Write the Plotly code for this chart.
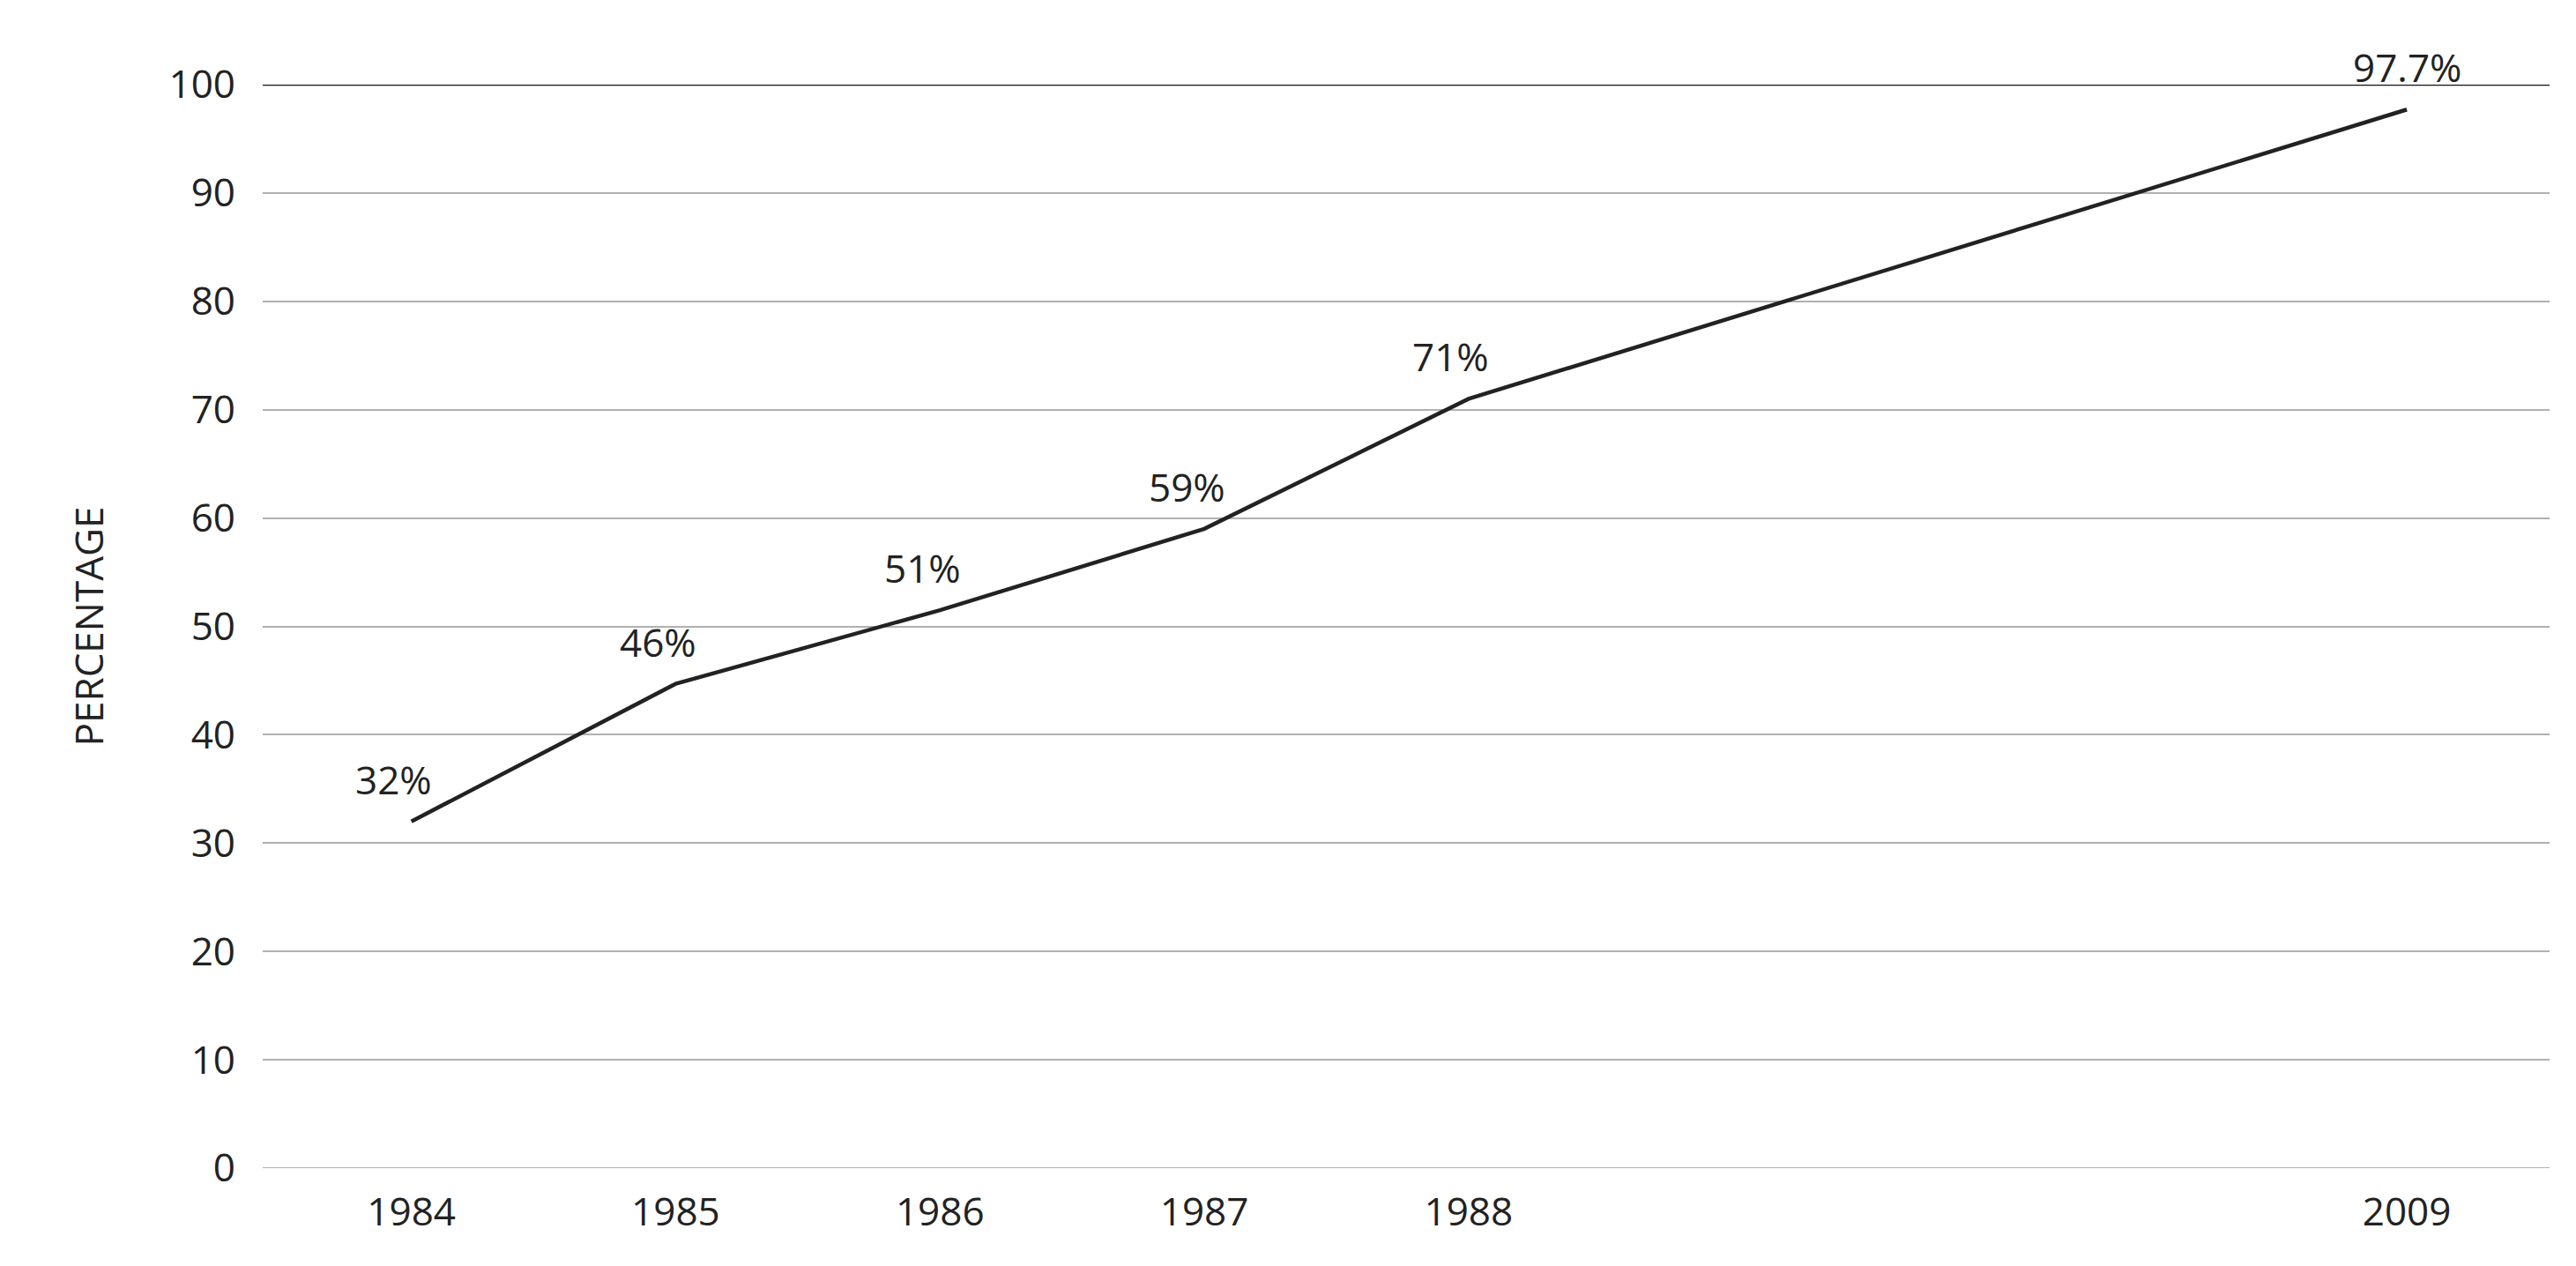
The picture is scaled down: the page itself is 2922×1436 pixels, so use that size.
import plotly.graph_objects as go

years = ["1984", "1985", "1986", "1987", "1988", "2009"]
year_num = [1984, 1985, 1986, 1987, 1988, 2009]
values = [32, 44.7, 51.5, 59, 71, 97.7]
labels = ["32%", "46%", "51%", "59%", "71%", "97.7%"]

# map years onto the chart's compressed axis (2009 sits ~3.6 slots after 1988)
def pos(y):
    return y - 1984 if y <= 1988 else 4 + (y - 1988) * 3.55 / 21

xs = [pos(y) for y in year_num]

fig = go.Figure()
fig.add_trace(go.Scatter(x=xs, y=values, mode="lines",
                         line=dict(color="#222", width=4.5), hoverinfo="skip"))
for x, v, t in zip(xs, values, labels):
    fig.add_annotation(x=x, y=v, text=t, showarrow=False, yshift=48, xshift=-20 if x < 5 else 0,
                       font=dict(size=44, color="#222", family="Open Sans"))
fig.update_layout(
    width=2922, height=1436, plot_bgcolor="white", paper_bgcolor="white",
    margin=dict(l=290, r=38, t=88, b=119), showlegend=False,
    font=dict(family="Open Sans", size=44, color="#222"),
)
fig.update_xaxes(range=[-0.5625, 8.09], tickvals=xs, ticktext=years,
                 showgrid=False, zeroline=False, showline=False,
                 tickfont=dict(size=44), ticklen=0, ticks="", ticklabelstandoff=20)
fig.update_yaxes(range=[0, 100], dtick=10, showgrid=True, gridcolor="#b0b0b0",
                 gridwidth=2, zeroline=False, showline=False,
                 title=dict(text="PERCENTAGE", font=dict(size=44), standoff=60),
                 tickfont=dict(size=44), ticks="", ticklen=0, ticklabelstandoff=30)
fig.add_shape(type="line", xref="paper", yref="y", x0=0, x1=1, y0=100, y1=100,
              line=dict(color="#111", width=2.5), layer="above")
fig.add_shape(type="line", xref="paper", yref="y", x0=0, x1=1, y0=0, y1=0,
              line=dict(color="#b0b0b0", width=2))
fig.write_html("out.html")
